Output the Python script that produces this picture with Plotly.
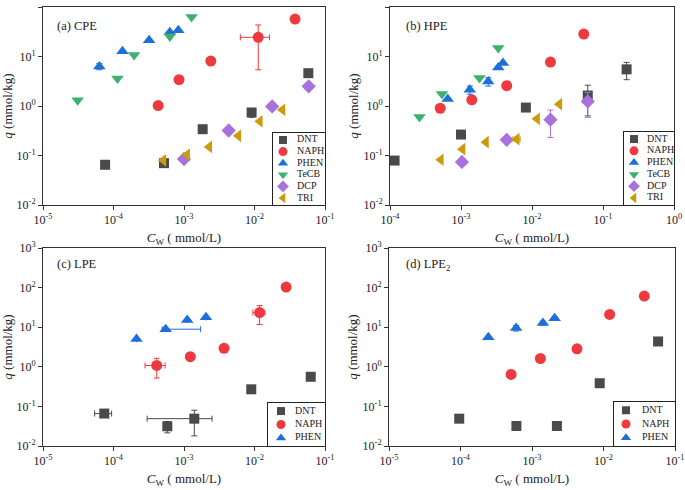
import plotly.graph_objects as go

# ---------------- data ----------------
# (a) CPE
cpe_dnt_x = [7.6e-5, 5.2e-4, 1.84e-3, 9.1e-3, 0.058]
cpe_dnt_y = [0.065, 0.07, 0.34, 0.74, 4.6]
cpe_dnt_ey = [0, 0, 0, 0.15, 0]
cpe_naph_x = [4.3e-4, 8.5e-4, 2.4e-3, 0.0113, 0.0376]
cpe_naph_y = [1.02, 3.4, 8.1, 24.4, 57]
cpe_naph_ex = [0, 0, 0, 5.0e-3, 0]
cpe_naph_ey = [0, 0, 0, 19, 0]
cpe_phen_x = [6.3e-5, 1.34e-4, 3.2e-4, 6.3e-4, 8.3e-4]
cpe_phen_y = [6.3, 12.7, 21.2, 30.8, 33.8]
cpe_phen_ey = [0.9, 0, 0, 0, 0]
cpe_tecb_x = [3.1e-5, 1.14e-4, 1.96e-4, 6.3e-4, 1.28e-3]
cpe_tecb_y = [1.3, 3.6, 10.7, 25.5, 62.8]
cpe_dcp_x = [1.0e-3, 4.3e-3, 0.0178, 0.0587]
cpe_dcp_y = [0.085, 0.32, 0.98, 2.5]
cpe_tri_x = [5.1e-4, 1.11e-3, 2.28e-3, 5.9e-3, 0.0119, 0.0249]
cpe_tri_y = [0.08, 0.104, 0.149, 0.25, 0.49, 0.84]

# (b) HPE
hpe_dnt_x = [1.16e-4, 1.0e-3, 8.2e-3, 0.061, 0.215]
hpe_dnt_y = [0.079, 0.265, 0.93, 1.63, 5.5]
hpe_dnt_ey = [0, 0, 0, 1.0, 2.1]
hpe_naph_x = [5.1e-4, 1.42e-3, 4.4e-3, 0.0182, 0.0536]
hpe_naph_y = [0.9, 1.33, 2.57, 7.7, 28.4]
hpe_phen_x = [6.5e-4, 1.33e-3, 2.42e-3, 3.35e-3, 3.9e-3]
hpe_phen_y = [1.38, 2.13, 3.13, 6.0, 7.4]
hpe_phen_ey = [0, 0.4, 0.6, 0, 0]
hpe_tecb_x = [2.6e-4, 5.4e-4, 1.82e-3, 3.35e-3]
hpe_tecb_y = [0.6, 1.74, 3.66, 14.8]
hpe_dcp_x = [1.03e-3, 4.4e-3, 0.0182, 0.061]
hpe_dcp_y = [0.074, 0.207, 0.53, 1.24]
hpe_dcp_ey = [0, 0, 0.3, 0.65]
hpe_tri_x = [5.2e-4, 1.05e-3, 2.25e-3, 6.1e-3, 0.0118, 0.0243]
hpe_tri_y = [0.082, 0.134, 0.186, 0.214, 0.55, 1.09]
hpe_tri_ex = [0, 0, 0, 0.7e-3, 0, 0]

# (c) LPE
lpe_dnt_x = [7.4e-5, 5.8e-4, 1.4e-3, 9.0e-3, 0.0628]
lpe_dnt_y = [0.066, 0.0315, 0.049, 0.27, 0.56]
lpe_dnt_ex = [2.0e-5, 0, 1.1e-3, 0, 0]
lpe_dnt_ey = [0.012, 0.01, 0.031, 0.04, 0]
lpe_naph_x = [4.1e-4, 1.23e-3, 3.7e-3, 0.0118, 0.0281]
lpe_naph_y = [1.08, 1.8, 2.92, 23.4, 103]
lpe_naph_ex = [1.3e-4, 0, 0, 2.3e-3, 0]
lpe_naph_ey = [0.56, 0, 0.5, 11.7, 0]
lpe_phen_x = [2.12e-4, 5.5e-4, 1.11e-3, 2.05e-3]
lpe_phen_y = [5.0, 8.9, 15.3, 17.9]
lpe_phen_ex_plus = [0, 1.17e-3, 0, 0]
lpe_phen_ex_minus = [0, 0.6e-4, 0, 0]

# (d) LPE2
lpe2_dnt_x = [9.6e-5, 6.05e-4, 2.23e-3, 8.85e-3, 0.058]
lpe2_dnt_y = [0.049, 0.032, 0.032, 0.385, 4.36]
lpe2_naph_x = [5.1e-4, 1.31e-3, 4.26e-3, 0.0122, 0.0372]
lpe2_naph_y = [0.64, 1.62, 2.84, 21, 61]
lpe2_phen_x = [2.45e-4, 6.0e-4, 1.42e-3, 2.07e-3]
lpe2_phen_y = [5.6, 9.5, 12.7, 16.9]
lpe2_phen_ey = [0, 1.5, 1.5, 1.5]

series_six = ["DNT", "NAPH", "PHEN", "TeCB", "DCP", "TRI"]
series_three = ["DNT", "NAPH", "PHEN"]

panel_labels = ["(a) CPE", "(b) HPE", "(c) LPE", "(d) LPE<sub>2</sub>"]
xtitle = "<i>C</i><sub>W</sub> ( mmol/L)"
ytitle = "<i>q</i> (mmol/kg)"

x_tick_exp_a = [-5, -4, -3, -2, -1]
x_tick_exp_b = [-4, -3, -2, -1, 0]
y_tick_exp_ab = [-2, -1, 0, 1, 2]
y_tick_exp_cd = [-2, -1, 0, 1, 2, 3]

# ---------------- styles ----------------
COL = {"DNT": "#4a4a4a", "NAPH": "#ee3a3f", "PHEN": "#1e6fd9",
       "TeCB": "#3bb36e", "DCP": "#a872dc", "TRI": "#cc9a0a"}
SYM = {"DNT": "square", "NAPH": "circle", "PHEN": "triangle-up",
       "TeCB": "triangle-down", "DCP": "diamond", "TRI": "triangle-left"}
SIZE = {"DNT": 10, "NAPH": 11, "PHEN": 11, "TeCB": 11, "DCP": 11, "TRI": 11}
LSIZE = {"DNT": 8, "NAPH": 9, "PHEN": 9, "TeCB": 9, "DCP": 9, "TRI": 9}
FONT = "Liberation Serif, Times New Roman, serif"
TXT = "#222"

fig = go.Figure()


def add(name, x, y, ax, ex=None, ey=None, exm=None):
    kw = {}
    if ex is not None:
        d = dict(type="data", array=ex, color=COL[name], thickness=1, width=3, visible=True)
        if exm is not None:
            d["symmetric"] = False
            d["arrayminus"] = exm
        kw["error_x"] = d
    if ey is not None:
        kw["error_y"] = dict(type="data", array=ey, color=COL[name], thickness=1, width=3, visible=True)
    fig.add_trace(go.Scatter(
        x=x, y=y, mode="markers", name=name, showlegend=False,
        marker=dict(symbol=SYM[name], color=COL[name], size=SIZE[name], line=dict(width=0)),
        xaxis="x" + ax, yaxis="y" + ax, **kw))


# panel a
add("DNT", cpe_dnt_x, cpe_dnt_y, "", ey=cpe_dnt_ey)
add("NAPH", cpe_naph_x, cpe_naph_y, "", ex=cpe_naph_ex, ey=cpe_naph_ey)
add("PHEN", cpe_phen_x, cpe_phen_y, "", ey=cpe_phen_ey)
add("TeCB", cpe_tecb_x, cpe_tecb_y, "")
add("DCP", cpe_dcp_x, cpe_dcp_y, "")
add("TRI", cpe_tri_x, cpe_tri_y, "")
# panel b
add("DNT", hpe_dnt_x, hpe_dnt_y, "2", ey=hpe_dnt_ey)
add("NAPH", hpe_naph_x, hpe_naph_y, "2")
add("PHEN", hpe_phen_x, hpe_phen_y, "2", ey=hpe_phen_ey)
add("TeCB", hpe_tecb_x, hpe_tecb_y, "2")
add("DCP", hpe_dcp_x, hpe_dcp_y, "2", ey=hpe_dcp_ey)
add("TRI", hpe_tri_x, hpe_tri_y, "2", ex=hpe_tri_ex)
# panel c
add("DNT", lpe_dnt_x, lpe_dnt_y, "3", ex=lpe_dnt_ex, ey=lpe_dnt_ey)
add("NAPH", lpe_naph_x, lpe_naph_y, "3", ex=lpe_naph_ex, ey=lpe_naph_ey)
add("PHEN", lpe_phen_x, lpe_phen_y, "3", ex=lpe_phen_ex_plus, exm=lpe_phen_ex_minus)
# panel d
add("DNT", lpe2_dnt_x, lpe2_dnt_y, "4")
add("NAPH", lpe2_naph_x, lpe2_naph_y, "4")
add("PHEN", lpe2_phen_x, lpe2_phen_y, "4", ey=lpe2_phen_ey)

# ---------------- layout ----------------
ML, MR, MT, MB = 43, 10, 7, 44
W, H = 685, 490
PW, PH = W - ML - MR, H - MT - MB


def xd(a, b):
    return [(a - ML) / PW, (b - ML) / PW]


def yd(top, bot):
    return [(H - MB - bot) / PH, (H - MB - top) / PH]


def sup(e):
    return "10<sup>%d</sup>" % e


panels = [
    # key, xpix, ypix, x exps, y exps, label pos, legend box px, series, legend sym x, legend text x
    ("", (43, 325), (7, 205), x_tick_exp_a, y_tick_exp_ab, (0.043, 0.905), (273, 325, 133, 205), series_six, 10, 24),
    ("2", (390, 674), (7, 205), x_tick_exp_b, y_tick_exp_ab, (0.049, 0.905), (624, 674, 132, 205), series_six, 10, 23),
    ("3", (43, 325), (248, 446), x_tick_exp_a, y_tick_exp_cd, (0.043, 0.918), (268, 325, 403, 446), series_three, 13, 27),
    ("4", (389, 675), (248, 446), x_tick_exp_a, y_tick_exp_cd, (0.052, 0.913), (614, 675, 402, 446), series_three, 12, 28),
]

axcommon = dict(type="log", showgrid=False, zeroline=False, automargin=False,
                showline=True, linecolor="#333", linewidth=1, mirror=True,
                ticks="outside", ticklen=4, tickcolor="#333",
                tickfont=dict(family=FONT, size=12, color=TXT))
lay = {}
annotations = []
for i, (k, xp, yp, xe, ye, lpos, lbox, names, sx, tx) in enumerate(panels):
    xdm, ydm = xd(*xp), yd(*yp)
    lay["xaxis" + k] = dict(axcommon, domain=xdm, range=[xe[0], xe[-1]], anchor="y" + k,
                            tickvals=[10.0 ** e for e in xe], ticktext=[sup(e) for e in xe],
                            title=dict(text=xtitle, font=dict(family=FONT, size=13, color=TXT), standoff=6))
    lay["yaxis" + k] = dict(axcommon, domain=ydm, range=[ye[0], ye[-1]], anchor="x" + k,
                            tickvals=[10.0 ** e for e in ye], ticktext=[sup(e) for e in ye],
                            title=dict(text=ytitle, font=dict(family=FONT, size=13, color=TXT), standoff=2))
    annotations.append(dict(text=panel_labels[i], xref="x" + k + " domain", yref="y" + k + " domain",
                            x=lpos[0], y=lpos[1], xanchor="left", yanchor="middle", showarrow=False,
                            font=dict(family=FONT, size=12.5, color=TXT)))
    # legend box as an inset axis
    j = str(5 + i)
    bx0, bx1, by0, by1 = lbox
    n = len(names)
    lay["xaxis" + j] = dict(domain=xd(bx0, bx1), range=[0, bx1 - bx0], anchor="y" + j,
                            showline=True, mirror=True, linecolor="#222", linewidth=1,
                            showticklabels=False, ticks="", showgrid=False, zeroline=False,
                            fixedrange=True, automargin=False)
    lay["yaxis" + j] = dict(domain=yd(by0, by1), range=[n - 0.4, -0.6], anchor="x" + j,
                            showline=True, mirror=True, linecolor="#222", linewidth=1,
                            showticklabels=False, ticks="", showgrid=False, zeroline=False,
                            fixedrange=True, automargin=False)
    rows = list(range(n))
    for idx, nm in enumerate(names):
        fig.add_trace(go.Scatter(
            x=[sx], y=[rows[idx]], mode="markers", showlegend=False, hoverinfo="skip",
            marker=dict(symbol=SYM[nm], color=COL[nm], size=LSIZE[nm], line=dict(width=0)),
            xaxis="x" + j, yaxis="y" + j, cliponaxis=False))
    fig.add_trace(go.Scatter(
        x=[tx] * n, y=rows, mode="text", text=names, textposition="middle right",
        textfont=dict(family=FONT, size=10, color=TXT), showlegend=False, hoverinfo="skip",
        xaxis="x" + j, yaxis="y" + j, cliponaxis=False))

fig.update_layout(width=W, height=H, margin=dict(l=ML, r=MR, t=MT, b=MB),
                  paper_bgcolor="white", plot_bgcolor="white", showlegend=False,
                  annotations=annotations, **lay)

fig.write_html("out.html", config={"displayModeBar": False},
               post_script="document.body.style.margin='0px';document.body.style.padding='0px';")
